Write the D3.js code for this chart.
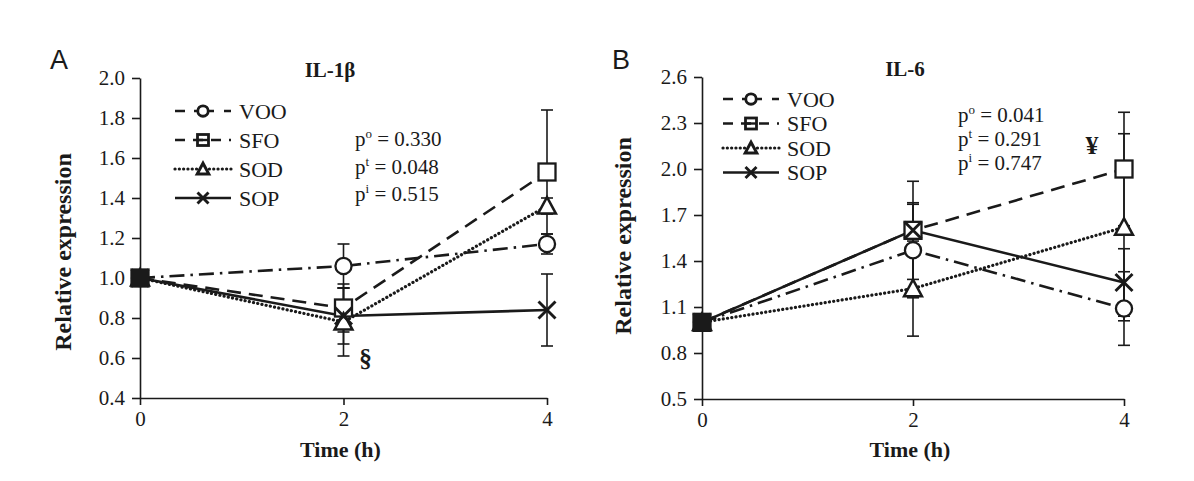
<!DOCTYPE html>
<html><head><meta charset="utf-8">
<script src="https://cdn.jsdelivr.net/npm/d3@7"></script>
<style>
html,body{margin:0;padding:0;background:#fff;}
svg text{font-family:"Liberation Serif","Times New Roman",serif;fill:#1a1a1a;}
</style></head>
<body>
<svg id="chart" width="1194" height="481"></svg>
<script>
// ---- data ----
const times = [0, 2, 4];
const xTicks = [0, 2, 4];
const seriesNames = ["VOO", "SFO", "SOD", "SOP"];

// IL-1β (panel A)
const il1bVOO = [1.00, 1.06, 1.17];
const il1bSFO = [1.00, 0.85, 1.53];
const il1bSOD = [1.00, 0.78, 1.36];
const il1bSOP = [1.00, 0.81, 0.84];
const il1bErrVOO = [0, 0.11, 0.05];
const il1bErrSFO = [0, 0.12, 0.31];
const il1bErrSOD = [0, 0.17, 0.04];
const il1bErrSOP = [0, 0.14, 0.18];
const il1bTicks = [0.4, 0.6, 0.8, 1.0, 1.2, 1.4, 1.6, 1.8, 2.0];
const il1bP = [["o", "0.330"], ["t", "0.048"], ["i", "0.515"]];

// IL-6 (panel B)
const il6VOO = [1.00, 1.47, 1.09];
const il6SFO = [1.00, 1.60, 2.00];
const il6SOD = [1.00, 1.22, 1.62];
const il6SOP = [1.00, 1.60, 1.26];
const il6ErrVOO = [0, 0.31, 0.24];
const il6ErrSFO = [0, 0.32, 0.37];
const il6ErrSOD = [0, 0.31, 0.61];
const il6ErrSOP = [0, 0.17, 0.22];
const il6Ticks = [0.5, 0.8, 1.1, 1.4, 1.7, 2.0, 2.3, 2.6];
const il6P = [["o", "0.041"], ["t", "0.291"], ["i", "0.747"]];

// ---- styles ----
const styles = {
  VOO: {dash: "15,6,2.5,6", marker: "circle", w: 2.6},
  SFO: {dash: "14,8", marker: "square", w: 2.6},
  SOD: {dash: "0.1,4.2", marker: "triangle", cap: "round", w: 3.2},
  SOP: {dash: null, marker: "cross", w: 2.6}
};

const svg = d3.select("#chart");
const ink = "#1a1a1a";

function drawMarker(g, type, cx, cy, s, legend) {
  if (type === "circle") {
    g.append("circle").attr("cx", cx).attr("cy", cy).attr("r", s * 0.95)
      .attr("fill", "#fff").attr("stroke", ink).attr("stroke-width", legend ? 2.8 : 2.3);
  } else if (type === "square") {
    g.append("rect").attr("x", cx - s).attr("y", cy - s).attr("width", 2 * s).attr("height", 2 * s)
      .attr("fill", legend ? "none" : "#fff").attr("stroke", ink).attr("stroke-width", legend ? 2.8 : 2.3);
  } else if (type === "triangle") {
    const h = s * 1.05;
    g.append("path").attr("d", `M${cx},${cy - h}L${cx + h},${cy + h * 0.85}L${cx - h},${cy + h * 0.85}Z`)
      .attr("fill", "#fff").attr("stroke", ink).attr("stroke-width", legend ? 3 : 2.5).attr("stroke-linejoin", "miter");
  } else {
    g.append("path").attr("d", `M${cx - s},${cy - s}L${cx + s},${cy + s}M${cx - s},${cy + s}L${cx + s},${cy - s}`)
      .attr("stroke", ink).attr("stroke-width", 2.9).attr("fill", "none");
  }
}

function panel(cfg) {
  const g = svg.append("g");
  const x = d3.scaleLinear().domain([0, 4]).range(cfg.xr);
  const y = d3.scaleLinear().domain(cfg.yd).range(cfg.yr);

  // axes
  const ya = g.append("g").attr("transform", `translate(${cfg.xr[0]},0)`)
    .call(d3.axisLeft(y).tickValues(cfg.ticks).tickFormat(d3.format(".1f")).tickSize(8).tickSizeOuter(0).tickPadding(7));
  const xa = g.append("g").attr("transform", `translate(0,${cfg.yr[0]})`)
    .call(d3.axisBottom(x).tickValues(xTicks).tickFormat(d3.format("d")).tickSize(7).tickSizeOuter(0).tickPadding(6));
  [ya, xa].forEach(a => {
    a.select(".domain").attr("stroke", ink).attr("stroke-width", 1.6);
    a.selectAll(".tick line").attr("stroke", ink).attr("stroke-width", 1.6);
    a.selectAll(".tick text").attr("font-size", 21).attr("font-family", "Liberation Serif").attr("fill", ink);
  });

  // lines
  const line = d3.line().x((d, i) => x(times[i])).y(d => y(d));
  // error bars
  seriesNames.forEach(n => {
    const vals = cfg.data[n], errs = cfg.err[n];
    vals.forEach((v, i) => {
      if (!errs[i]) return;
      const xx = x(times[i]);
      const lo = y(v - errs[i]), hi = y(v + errs[i]);
      g.append("line").attr("x1", xx).attr("x2", xx).attr("y1", lo).attr("y2", hi)
        .attr("stroke", ink).attr("stroke-width", 1.6);
      [lo, hi].forEach(yy => g.append("line").attr("x1", xx - 6).attr("x2", xx + 6).attr("y1", yy).attr("y2", yy)
        .attr("stroke", ink).attr("stroke-width", 1.6));
    });
  });
  seriesNames.forEach(n => {
    const st = styles[n];
    g.append("path").datum(cfg.data[n]).attr("d", line).attr("fill", "none")
      .attr("stroke", ink).attr("stroke-width", st.w)
      .attr("stroke-dasharray", st.dash).attr("stroke-linecap", st.cap || "butt");
  });
  seriesNames.forEach(n => {
    cfg.data[n].forEach((v, i) => drawMarker(g, styles[n].marker, x(times[i]), y(v), 8.5, false));
  });
  // filled block at t=0 (overlapping markers)
  g.append("rect").attr("x", x(0) - 9).attr("y", y(1) - 9).attr("width", 18).attr("height", 18).attr("fill", ink);

  // legend
  seriesNames.forEach((n, i) => {
    const ly = cfg.leg.y + i * cfg.leg.dy;
    const st = styles[n];
    g.append("line").attr("x1", cfg.leg.x).attr("x2", cfg.leg.x + 56).attr("y1", ly).attr("y2", ly)
      .attr("stroke", ink).attr("stroke-width", st.w)
      .attr("stroke-dasharray", n === "VOO" ? "10,9,20" : n === "SFO" ? "10,8" : st.dash)
      .attr("stroke-linecap", st.cap || "butt");
    drawMarker(g, st.marker, cfg.leg.x + 28, ly, 5.5, true);
    if (n === "SFO") g.append("line").attr("x1", cfg.leg.x + 22).attr("x2", cfg.leg.x + 34).attr("y1", ly).attr("y2", ly).attr("stroke", ink).attr("stroke-width", 2.4);
    g.append("text").attr("x", cfg.leg.x + 64).attr("y", ly + 7.5).attr("font-size", 22).text(n);
  });

  // p-values
  cfg.p.forEach((p, i) => {
    const t = g.append("text").attr("x", cfg.px).attr("y", cfg.py + i * cfg.pdy).attr("font-size", 21);
    t.append("tspan").text("p");
    t.append("tspan").attr("dy", -8).attr("font-size", 13).text(p[0]);
    t.append("tspan").attr("dy", 8).text(" = " + p[1]);
  });

  // titles
  g.append("text").attr("x", cfg.title[0]).attr("y", cfg.title[1]).attr("text-anchor", "middle")
    .attr("font-size", 21).attr("font-weight", "bold").text(cfg.titleText);
  g.append("text").attr("x", (cfg.xr[0] + cfg.xr[1]) / 2 - 3).attr("y", 457).attr("text-anchor", "middle")
    .attr("font-size", 22).attr("font-weight", "bold").text("Time (h)");
  g.append("text").attr("transform", `translate(${cfg.ylab[0]},${cfg.ylab[1]}) rotate(-90)`)
    .attr("text-anchor", "middle").attr("font-size", 24).attr("font-weight", "bold").text("Relative expression");
  g.append("text").attr("x", cfg.letter[0]).attr("y", cfg.letter[1])
    .style("font-family", "'Liberation Sans', Arial, sans-serif").attr("font-size", 27).text(cfg.letterText);
  g.append("text").attr("x", x(cfg.sym[0]) + cfg.sym[2]).attr("y", y(cfg.sym[1]))
    .attr("font-size", 26).attr("font-weight", "bold").attr("text-anchor", "middle").text(cfg.symText);
}

panel({
  xr: [140, 547], yd: [0.4, 2.0], yr: [398, 78], ticks: il1bTicks,
  data: {VOO: il1bVOO, SFO: il1bSFO, SOD: il1bSOD, SOP: il1bSOP},
  err: {VOO: il1bErrVOO, SFO: il1bErrSFO, SOD: il1bErrSOD, SOP: il1bErrSOP},
  leg: {x: 175, y: 111, dy: 29}, p: il1bP, px: 355, py: 146, pdy: 27.5,
  title: [330, 77], titleText: "IL-1β", ylab: [71, 252], letter: [50, 69], letterText: "A",
  sym: [2, 0.555, 22], symText: "§"
});
panel({
  xr: [702, 1124], yd: [0.5, 2.6], yr: [399, 77], ticks: il6Ticks,
  data: {VOO: il6VOO, SFO: il6SFO, SOD: il6SOD, SOP: il6SOP},
  err: {VOO: il6ErrVOO, SFO: il6ErrSFO, SOD: il6ErrSOD, SOP: il6ErrSOP},
  leg: {x: 723, y: 99, dy: 24.5}, p: il6P, px: 958, py: 122, pdy: 24.2,
  title: [905, 76], titleText: "IL-6", ylab: [631, 236], letter: [612, 69], letterText: "B",
  sym: [4, 2.1, -32], symText: "¥"
});
</script>
</body></html>
